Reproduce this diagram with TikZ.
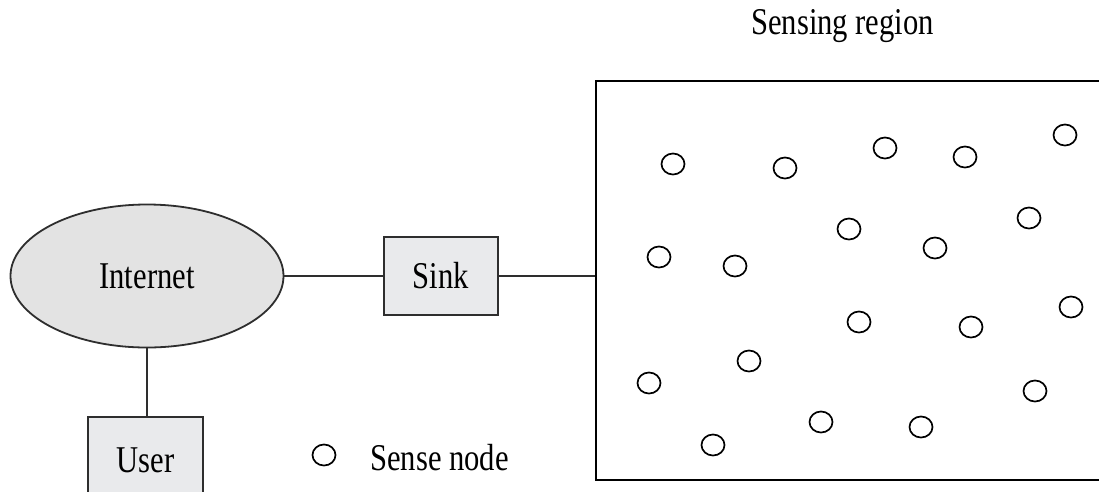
\documentclass[tikz,border=0pt]{standalone}
\usepackage{fontspec}
\setmainfont{Liberation Serif}
\usetikzlibrary{shapes.geometric}
\definecolor{linec}{HTML}{2E2E2E}
\definecolor{ellfill}{HTML}{E3E3E3}
\definecolor{boxfill}{HTML}{E9EAEC}
\newcommand{\lbl}[1]{\scalebox{0.85}[1.05]{#1}}
\tikzset{
  lbltext/.style={font=\fontsize{36}{40}\selectfont, text=black, inner sep=0pt},
  boxnode/.style={draw=linec, line width=1.8pt, fill=boxfill, lbltext},
  conn/.style={draw=linec, line width=1.8pt},
  sensor/.style={ellipse, draw=black, line width=1.7pt, minimum width=23pt, minimum height=21pt, inner sep=0pt},
}
\begin{document}
\begin{tikzpicture}[x=1pt,y=-1pt]
\clip (0,0) rectangle (1099,491);
\fill[white] (0,0) rectangle (1099,491);
% main nodes
\node[ellipse, draw=linec, line width=1.8pt, fill=ellfill, minimum width=273pt, minimum height=143pt, lbltext] (inet) at (147,276) {\lbl{Internet}};
\node[boxnode, minimum width=114pt, minimum height=78pt] (sink) at (441,276) {\lbl{Sink}};
\node[boxnode, minimum width=115pt, minimum height=86pt] (user) at (145.5,460) {\lbl{User}};
\node[draw=black, line width=2.4pt, minimum width=530pt, minimum height=399pt, inner sep=0pt] (region) at (861,280.5) {};
% connectors
\draw[conn] (inet.east) -- (sink.west);
\draw[conn] (sink.east) -- (sink.east -| region.west);
\draw[conn] (inet.south) -- (inet.south |- user.north);
% labels
\node[lbltext, anchor=base west] (title) at (751,34) {\lbl{Sensing region}};
\node[sensor] (leg) at (324,455) {};
\node[lbltext, anchor=base west] (legtext) at (370,470) {\lbl{Sense node}};
% sensor nodes
\foreach \x/\y [count=\i] in {673/164, 785/168, 885/148, 965/157, 1065/135,
  849/229, 1029/218, 659/257, 735/266, 935/248,
  859/322, 971/327, 1071/307, 749/361, 649/383,
  1035/391, 821/422, 921/427, 713/445}
  \node[sensor] (s\i) at (\x,\y) {};
\end{tikzpicture}
\end{document}
